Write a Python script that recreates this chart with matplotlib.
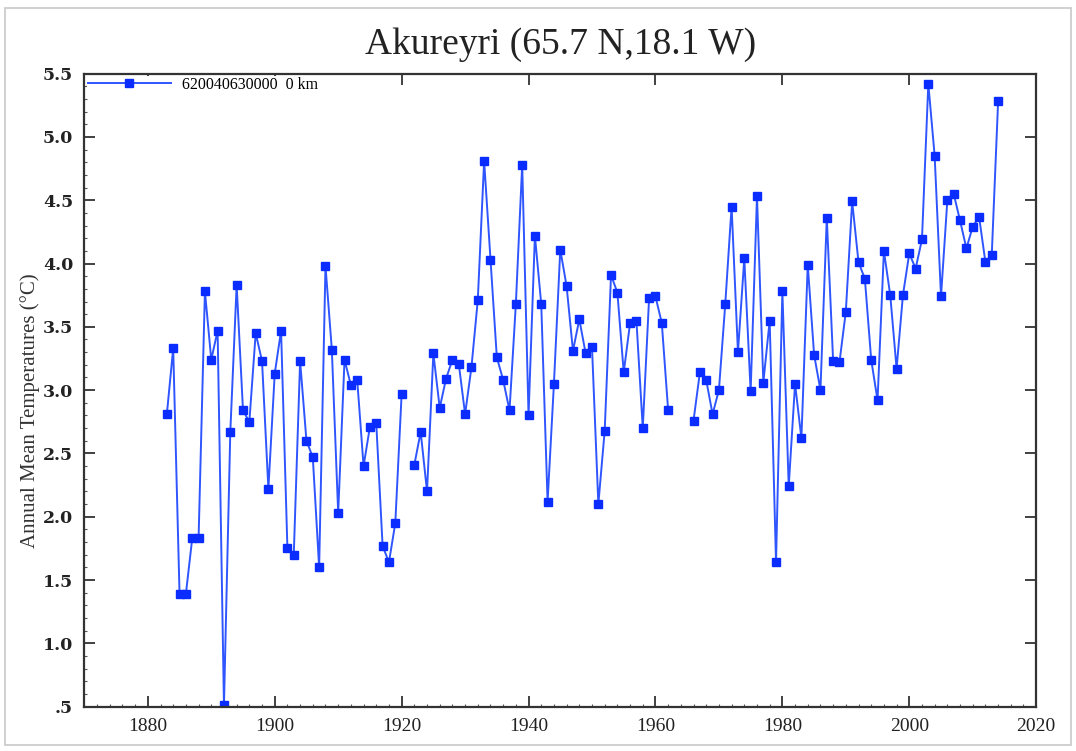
import numpy as np
import matplotlib
matplotlib.use("Agg")
import matplotlib.pyplot as plt
from matplotlib.patches import Rectangle
from matplotlib.ticker import MultipleLocator, FuncFormatter

# Akureyri annual mean temperatures (station 620040630000)
years_a = list(range(1883, 1921))
temps_a = [2.81, 3.33, 1.39, 1.39, 1.83, 1.83, 3.78, 3.24, 3.47, 0.51,
           2.67, 3.83, 2.84, 2.75, 3.45, 3.23, 2.22, 3.13, 3.47, 1.75,
           1.70, 3.23, 2.60, 2.47, 1.60, 3.98, 3.32, 2.03, 3.24, 3.04,
           3.08, 2.40, 2.71, 2.74, 1.77, 1.64, 1.95, 2.97]

years_b = list(range(1922, 1963))
temps_b = [2.41, 2.67, 2.20, 3.29, 2.86, 3.09, 3.24, 3.21, 2.81, 3.18,
           3.71, 4.81, 4.03, 3.26, 3.08, 2.84, 3.68, 4.78, 2.80, 4.22,
           3.68, 2.12, 3.05, 4.11, 3.82, 3.31, 3.56, 3.29, 3.34, 2.10,
           2.68, 3.91, 3.77, 3.14, 3.53, 3.55, 2.70, 3.73, 3.74, 3.53,
           2.84]

years_c = list(range(1966, 2015))
temps_c = [2.76, 3.14, 3.08, 2.81, 3.00, 3.68, 4.45, 3.30, 4.04, 2.99,
           4.53, 3.06, 3.55, 1.64, 3.78, 2.24, 3.05, 2.62, 3.99, 3.28,
           3.00, 4.36, 3.23, 3.22, 3.62, 4.49, 4.01, 3.88, 3.24, 2.92,
           4.10, 3.75, 3.17, 3.75, 4.08, 3.96, 4.19, 5.42, 4.85, 3.74,
           4.50, 4.55, 4.34, 4.12, 4.29, 4.37, 4.01, 4.07, 5.28]

# missing years break the line
years = years_a + [1921] + years_b + [1963, 1964, 1965] + years_c
temps = temps_a + [np.nan] + temps_b + [np.nan] * 3 + temps_c

x_ticks = [1880, 1900, 1920, 1940, 1960, 1980, 2000, 2020]
y_ticks = [0.5, 1.0, 1.5, 2.0, 2.5, 3.0, 3.5, 4.0, 4.5, 5.0, 5.5]

plt.rcParams["font.family"] = ["Liberation Serif", "DejaVu Serif"]

fig = plt.figure(figsize=(10.76, 7.51), dpi=100)
fig.patches.append(Rectangle((0.005, 0.008), 0.99, 0.981,
                             transform=fig.transFigure, fill=False,
                             edgecolor="#c8c8c8", linewidth=1.2))
ax = fig.add_axes([0.0784, 0.059, 0.8846, 0.843])

ax.plot(years, temps, color="#2f55ff", linewidth=1.4,
        marker="s", markersize=6, markerfacecolor="#0a2cff",
        markeredgecolor="#0a2cff", label="620040630000  0 km")

ax.set_xlim(1870, 2020)
ax.set_ylim(0.5, 5.5)
ax.set_xticks(x_ticks)
ax.set_yticks(y_ticks)
ax.xaxis.set_minor_locator(MultipleLocator(2))
ax.yaxis.set_minor_locator(MultipleLocator(0.1))
ax.yaxis.set_major_formatter(
    FuncFormatter(lambda v, p: ".5" if abs(v - 0.5) < 1e-6 else f"{v:.1f}"))

ax.tick_params(which="major", direction="in", length=8, width=1.3,
               top=True, right=True, colors="#333333",
               labelsize=14, labelcolor="#222222", pad=8)
ax.tick_params(which="minor", direction="in", length=2.5, width=0.8,
               top=False, right=False, colors="#555555")
for lbl in ax.get_yticklabels():
    lbl.set_family(["DejaVu Serif"])
    lbl.set_fontweight("bold")
    lbl.set_fontsize(12.5)
for sp in ax.spines.values():
    sp.set_linewidth(1.6)
    sp.set_color("#333333")

ax.set_title("Akureyri (65.7 N,18.1 W)", fontsize=27, pad=14,
             color="#222222")
ax.set_ylabel("Annual Mean Temperatures (\u00b0C)", fontsize=15,
              color="#333333")
ax.yaxis.set_label_coords(-0.047, 0.468)

leg = ax.legend(loc="upper left", frameon=True, fontsize=11.5,
                handlelength=5.2, borderaxespad=0.15, borderpad=0.05,
                handletextpad=0.7, fancybox=False)
leg.get_frame().set_facecolor("white")
leg.get_frame().set_edgecolor("none")
leg.get_frame().set_alpha(1.0)

fig.savefig("out.png", dpi=100)
